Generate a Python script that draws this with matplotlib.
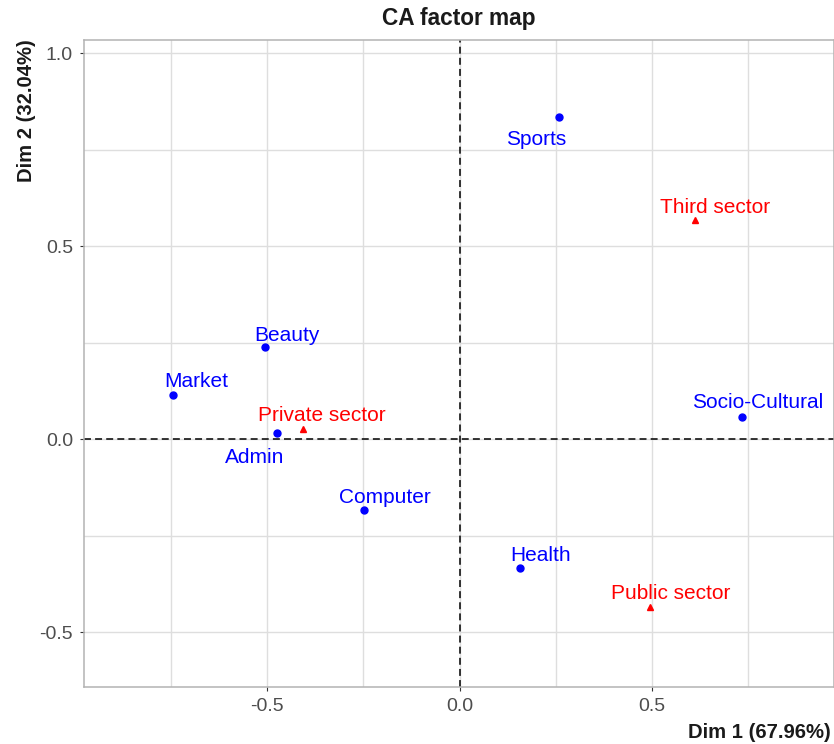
import matplotlib
matplotlib.use("Agg")
import matplotlib.pyplot as plt
from matplotlib.ticker import MultipleLocator

plt.rcParams['font.family'] = ['Liberation Sans', 'DejaVu Sans']
plt.rcParams['lines.scale_dashes'] = False

# column categories (blue dots)
col_names = ['Sports', 'Beauty', 'Market', 'Admin', 'Socio-Cultural', 'Computer', 'Health']
col_x = [0.257, -0.506, -0.744, -0.475, 0.734, -0.249, 0.158]
col_y = [0.835, 0.239, 0.115, 0.016, 0.058, -0.183, -0.333]

# row categories (red triangles)
row_names = ['Third sector', 'Private sector', 'Public sector']
row_x = [0.612, -0.407, 0.495]
row_y = [0.568, 0.027, -0.434]

# label offsets in pixels (layout only)
col_off = [(-22, -23), (22, 11), (23, 13), (-22, -25), (15, 14), (21, 12), (20, 12)]
row_off = [(20, 12), (19, 13), (20, 13)]

fig = plt.figure(figsize=(8.34, 7.44), dpi=100)
ax = fig.add_axes([84 / 834, 1 - 687 / 744, 750 / 834, 647 / 744])

ax.set_xlim(-0.975, 0.972)
ax.set_ylim(-0.642, 1.034)

ax.xaxis.set_major_locator(MultipleLocator(0.5))
ax.xaxis.set_minor_locator(MultipleLocator(0.25))
ax.yaxis.set_major_locator(MultipleLocator(0.5))
ax.yaxis.set_minor_locator(MultipleLocator(0.25))
ax.grid(True, which='both', color='#dedede', lw=1.0, zorder=0)
ax.set_axisbelow(True)

for s in ax.spines.values():
    s.set_color('#b3b3b3')
    s.set_linewidth(1.1)

ax.tick_params(which='major', length=3, width=0.8, color='#333333',
               labelsize=14, labelcolor='#4d4d4d', pad=5)
ax.tick_params(which='minor', length=0)
ax.xaxis.set_major_formatter(plt.FuncFormatter(lambda v, p: f'{v:.1f}'))
ax.yaxis.set_major_formatter(plt.FuncFormatter(lambda v, p: f'{v:.1f}'))

ax.axhline(0, color='black', lw=1.1, ls=(0, (5, 3)), zorder=2)
ax.axvline(0, color='black', lw=1.1, ls=(0, (5, 3)), zorder=2)

ax.plot(col_x, col_y, 'o', color='blue', ms=5, zorder=3)
ax.plot(row_x, row_y, '^', color='red', ms=4.5, zorder=3)

for name, x, y, off in zip(col_names, col_x, col_y, col_off):
    ax.annotate(name, (x, y), xytext=off, textcoords='offset pixels',
                ha='center', va='center', color='blue', fontsize=15)
for name, x, y, off in zip(row_names, row_x, row_y, row_off):
    ax.annotate(name, (x, y), xytext=off, textcoords='offset pixels',
                ha='center', va='center', color='red', fontsize=15)

fig.text(459 / 834, 1 - 19 / 744, 'CA factor map', ha='center', va='center',
         fontsize=16.3, fontweight='bold', color='#1a1a1a')
fig.text(831 / 834, 1 - 732 / 744, 'Dim 1 (67.96%)', ha='right', va='center',
         fontsize=14.6, fontweight='bold', color='#1a1a1a')
fig.text(26 / 834, 1 - 39 / 744, 'Dim 2 (32.04%)', ha='center', va='top',
         rotation=90, fontsize=14.6, fontweight='bold', color='#1a1a1a')

fig.savefig('out.png', dpi=100)
